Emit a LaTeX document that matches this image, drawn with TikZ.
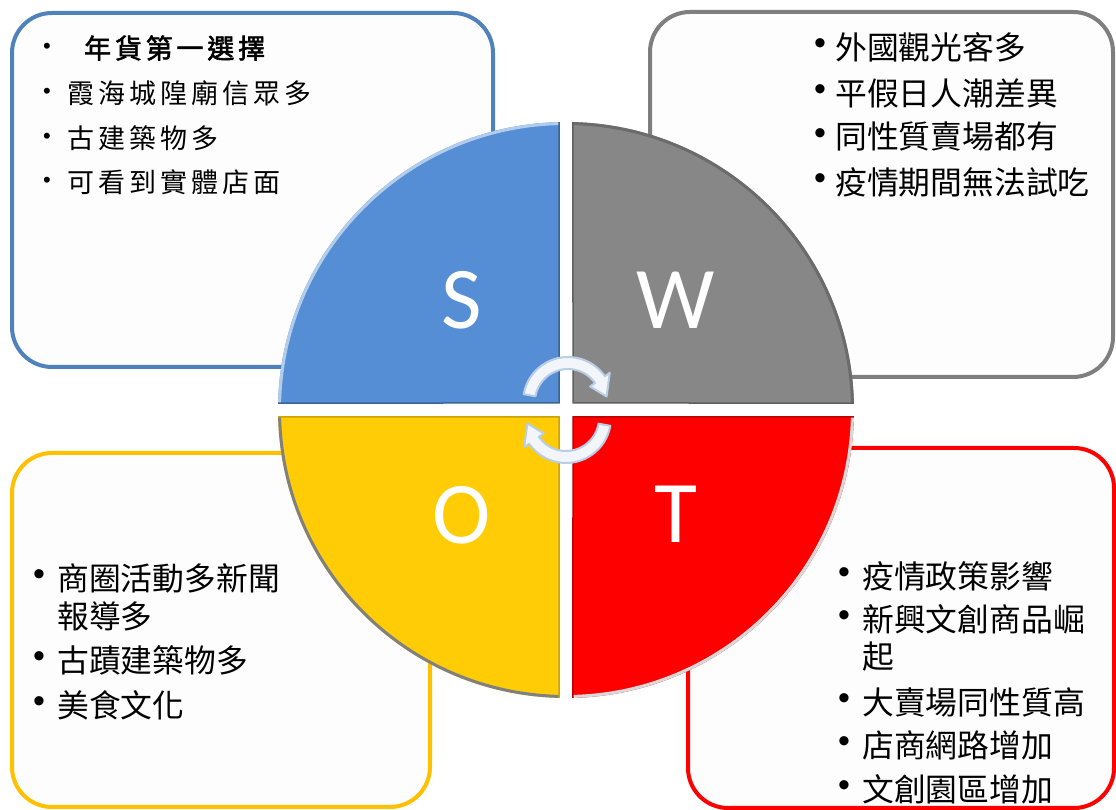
\documentclass[tikz,border=0pt]{standalone}
\usepackage{fontspec}
\usetikzlibrary{calc}
\newfontfamily\cjk{Noto Sans CJK TC}
\newfontfamily\cjkbold[FakeBold=2,LetterSpace=14]{Noto Sans CJK TC}
\newfontfamily\cjks[LetterSpace=15]{Noto Sans CJK TC}
\newfontfamily\letterfont{Carlito}
\newfontfamily\bulletfont{Liberation Sans}
\definecolor{sblue}{HTML}{558ED5}
\definecolor{sborder}{HTML}{4F81BD}
\definecolor{wgray}{HTML}{878787}
\definecolor{wborder}{HTML}{7F7F7F}
\definecolor{oyellow}{HTML}{FFCC05}
\definecolor{oborder}{HTML}{FFC000}
\definecolor{tred}{HTML}{FE0000}
\definecolor{arrowline}{HTML}{B9CDE5}
\definecolor{arrowfill}{HTML}{F2F6FB}
\definecolor{boxfill}{HTML}{FDFDFD}
\tikzset{
  box/.style={draw, line width=4pt, rounded corners=40pt, fill=boxfill, inner sep=0pt},
  letter/.style={font=\letterfont\fontsize{88}{88}\selectfont, text=white, inner sep=0pt},
  itemS/.style={font=\cjks\fontsize{27}{27}\selectfont, anchor=west, inner sep=0pt},
  itemSb/.style={font=\cjkbold\fontsize{27}{27}\selectfont, anchor=west, inner sep=0pt},
  item/.style={font=\cjk\fontsize{31.8}{31.8}\selectfont, anchor=west, inner sep=0pt},
  bul/.style={font=\bulletfont\fontsize{34}{34}\selectfont, inner sep=0pt},
  bulS/.style={font=\bulletfont\fontsize{22}{22}\selectfont, inner sep=0pt},
  arrowband/.style={fill=arrowfill, draw=arrowline, line width=2pt, line join=round}
}
\begin{document}
\begin{tikzpicture}[x=1pt,y=1pt]
\useasboundingbox (0,0) rectangle (1116,810);
\fill[white] (0,0) rectangle (1116,810);

% boxes
\node[box, draw=sborder, minimum width=481pt, minimum height=354pt] (sbox) at (252.5,620) {};
\node[box, draw=wborder, minimum width=463pt, minimum height=365pt] (wbox) at (881.5,615.5) {};
\node[box, draw=oborder, minimum width=418pt, minimum height=354pt] (obox) at (221,180) {};
\node[box, draw=tred, minimum width=426pt, minimum height=360pt] (tbox) at (901,182) {};

% circle quadrants
\coordinate (c) at (566,400);
\fill[sblue] ($(c)+(-7,7)$) -- ($(c)+(178.61:288)$) arc[start angle=178.61, end angle=91.39, radius=288] -- cycle;
\fill[wgray] ($(c)+(7,7)$) -- ($(c)+(88.61:288)$) arc[start angle=88.61, end angle=1.39, radius=288] -- cycle;
\fill[oyellow] ($(c)+(-7,-7)$) -- ($(c)+(181.39:288)$) arc[start angle=181.39, end angle=268.61, radius=288] -- cycle;
\fill[tred] ($(c)+(7,-7)$) -- ($(c)+(-88.61:288)$) arc[start angle=-88.61, end angle=-1.39, radius=288] -- cycle;
% rims
\draw[line width=3pt, sblue!45] ($(c)+(178.61:286.5)$) arc[start angle=178.61, end angle=91.39, radius=286.5];
\draw[line width=3pt, black!58] ($(c)+(88.61:286.5)$) arc[start angle=88.61, end angle=1.39, radius=286.5];
\draw[line width=3pt, black!50] ($(c)+(181.39:286.5)$) arc[start angle=181.39, end angle=268.61, radius=286.5];
\draw[line width=3pt, black!15] ($(c)+(-88.61:286.5)$) arc[start angle=-88.61, end angle=-1.39, radius=286.5];
\draw[line width=1.5pt, sblue!70!black] ($(c)+(178.61:288)$) -- ($(c)+(-7,7)$) -- ($(c)+(91.39:288)$);
\draw[line width=1.5pt, wgray!70!black] ($(c)+(88.61:288)$) -- ($(c)+(7,7)$) -- ($(c)+(1.39:288)$);
\draw[line width=1.5pt, oyellow!80!black] ($(c)+(181.39:288)$) -- ($(c)+(-7,-7)$) -- ($(c)+(268.61:288)$);
\draw[line width=1.5pt, tred!75!black] ($(c)+(-88.61:288)$) -- ($(c)+(7,-7)$) -- ($(c)+(-1.39:288)$);

% letters
\node[letter] (lS) at (462,510) {S};
\node[letter] (lW) at (676,510) {W};
\node[letter] (lO) at (462,295) {O};
\node[letter] (lT) at (676,296) {T};

% cycle arrows
\coordinate (u) at (568,408);
\coordinate (l) at (566,392);
\path[arrowband] ($(u)+(170:45)$) arc[start angle=170, end angle=35, radius=45] -- ($(u)+(35:51)$) -- ($(u)+(8:39)$) -- ($(u)+(35:27)$) -- ($(u)+(35:33)$) arc[start angle=35, end angle=170, radius=33] -- cycle;
\path[arrowband] ($(l)+(-10:45)$) arc[start angle=-10, end angle=-145, radius=45] -- ($(l)+(-145:51)$) -- ($(l)+(-172:39)$) -- ($(l)+(-145:27)$) -- ($(l)+(-145:33)$) arc[start angle=-145, end angle=-10, radius=33] -- cycle;

% S texts
\node[bulS] (sb1) at (47,762) {•};
\node[itemSb] (s1) at (84,762) {年貨第一選擇};
\node[bulS] (sb2) at (47,717) {•};
\node[itemS] (s2) at (67,717) {霞海城隍廟信眾多};
\node[bulS] (sb3) at (47,672) {•};
\node[itemS] (s3) at (67,672) {古建築物多};
\node[bulS] (sb4) at (47,628) {•};
\node[itemS] (s4) at (67,628) {可看到實體店面};

% W texts
\node[bul] (wb1) at (820,763) {•};
\node[item] (w1) at (835,763) {外國觀光客多};
\node[bul] (wb2) at (820,717) {•};
\node[item] (w2) at (835,717) {平假日人潮差異};
\node[bul] (wb3) at (820,673) {•};
\node[item] (w3) at (835,673) {同性質賣場都有};
\node[bul] (wb4) at (820,628) {•};
\node[item] (w4) at (835,628) {疫情期間無法試吃};

% O texts
\node[bul] (ob1) at (39,232) {•};
\node[item] (o1) at (57,232) {商圈活動多新聞};
\node[item] (o1b) at (57,194) {報導多};
\node[bul] (ob2) at (39,150) {•};
\node[item] (o2) at (57,150) {古蹟建築物多};
\node[bul] (ob3) at (39,105) {•};
\node[item] (o3) at (57,105) {美食文化};

% T texts
\node[bul] (tb1) at (844,234) {•};
\node[item] (t1) at (862,234) {疫情政策影響};
\node[bul] (tb2) at (844,191) {•};
\node[item] (t2) at (862,191) {新興文創商品崛};
\node[item] (t2b) at (862,153) {起};
\node[bul] (tb3) at (844,108) {•};
\node[item] (t3) at (862,108) {大賣場同性質高};
\node[bul] (tb4) at (844,65) {•};
\node[item] (t4) at (862,65) {店商網路增加};
\node[bul] (tb5) at (844,21) {•};
\node[item] (t5) at (862,21) {文創園區增加};
\end{tikzpicture}
\end{document}
